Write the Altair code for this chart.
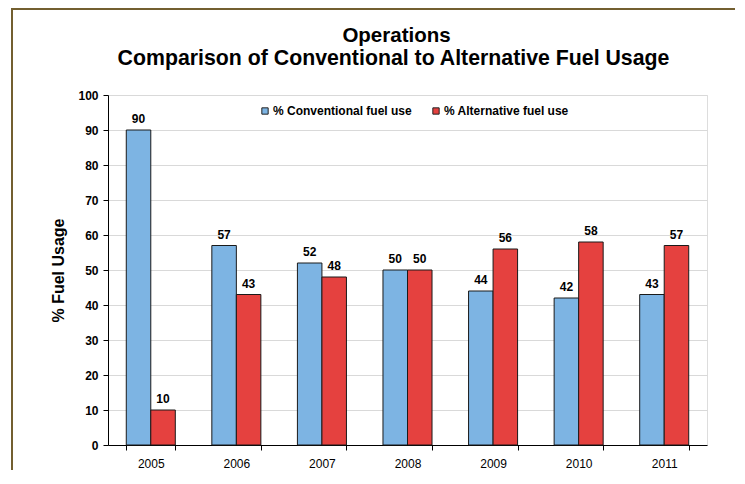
import altair as alt
import pandas as pd

years = ["2005", "2006", "2007", "2008", "2009", "2010", "2011"]
conventional = [90, 57, 52, 50, 44, 42, 43]
alternative = [10, 43, 48, 50, 56, 58, 57]
series_names = ["% Conventional fuel use", "% Alternative fuel use"]
series_colors = ["#7db4e3", "#e5413f"]
y_ticks = list(range(0, 101, 10))
title_lines = ["Operations", "Comparison of Conventional to Alternative Fuel Usage"]

rows = []
for i, yr in enumerate(years):
    rows.append({"year": yr, "series": series_names[0], "value": conventional[i]})
    rows.append({"year": yr, "series": series_names[1], "value": alternative[i]})
df = pd.DataFrame(rows)

FONT = "Liberation Sans"

x_enc = alt.X(
    "year:N",
    sort=years,
    scale=alt.Scale(paddingInner=0.427, paddingOuter=0.2135),
    axis=alt.Axis(
        title=None, labelAngle=0, labelFontSize=12, labelFont=FONT, labelColor="#000",
        tickBand="extent", tickSize=5, tickColor="#000", domainColor="#000",
        labelPadding=8, grid=False,
    ),
)
xo_enc = alt.XOffset("series:N", sort=series_names)
y_enc = alt.Y(
    "value:Q",
    scale=alt.Scale(domain=[0, 100], nice=False),
    axis=alt.Axis(
        title="% Fuel Usage", values=y_ticks, labelFontSize=12, labelFontWeight="bold",
        labelFont=FONT, labelColor="#000", tickSize=5, tickColor="#000",
        domainColor="#000", labelPadding=5, gridColor="#d9d9d9", labelOverlap=False,
        titleFontSize=16, titleFont=FONT, titleFontWeight="bold", titleColor="#000",
        titlePadding=11,
    ),
)

bars = alt.Chart(df).mark_bar(stroke="#1a1a1a", strokeWidth=1).encode(
    x=x_enc,
    xOffset=xo_enc,
    y=y_enc,
    color=alt.Color(
        "series:N",
        sort=series_names,
        scale=alt.Scale(domain=series_names, range=series_colors),
        legend=alt.Legend(
            title=None, orient="none", legendX=151, legendY=10, direction="horizontal",
            symbolType="square", symbolSize=40, symbolStrokeColor="#222",
            symbolStrokeWidth=1, labelFontSize=12, labelFontWeight="bold",
            labelFont=FONT, labelColor="#000", labelOffset=2, columnPadding=18,
        ),
    ),
)

labels = alt.Chart(df).mark_text(
    dy=-7, baseline="alphabetic", fontSize=12, fontWeight="bold", font=FONT, color="#000"
).encode(
    x=x_enc,
    xOffset=xo_enc,
    y=y_enc,
    text="value:Q",
)

title1 = alt.Chart(pd.DataFrame({"t": [title_lines[0]]})).mark_text(
    fontSize=20.5, fontWeight="bold", font=FONT, color="#000", align="center",
    baseline="alphabetic",
).encode(text="t:N", x=alt.value(288.5), y=alt.value(-53))
title2 = alt.Chart(pd.DataFrame({"t": [title_lines[1]]})).mark_text(
    fontSize=21.3, fontWeight="bold", font=FONT, color="#000", align="center",
    baseline="alphabetic",
).encode(text="t:N", x=alt.value(285.5), y=alt.value(-30))

frame_df = pd.DataFrame({"k": [0]})
frame_left = alt.Chart(frame_df).mark_rule(color="#735f30", strokeWidth=2).encode(
    x=alt.value(-96), y=alt.value(-86), y2=alt.value(420)
)
frame_top = alt.Chart(frame_df).mark_rule(color="#735f30", strokeWidth=2).encode(
    x=alt.value(-97), x2=alt.value(660), y=alt.value(-86)
)

chart = alt.layer(bars, labels, title1, title2, frame_left, frame_top).properties(
    width=599,
    height=350,
    autosize=alt.AutoSizeParams(type="none"),
    padding={"left": 100, "top": 87, "right": 28, "bottom": 25},
).configure_view(stroke="#b0b0b0", strokeWidth=1).configure(background="white")

chart.save("out.html", embed_options={"renderer": "svg", "actions": False})
